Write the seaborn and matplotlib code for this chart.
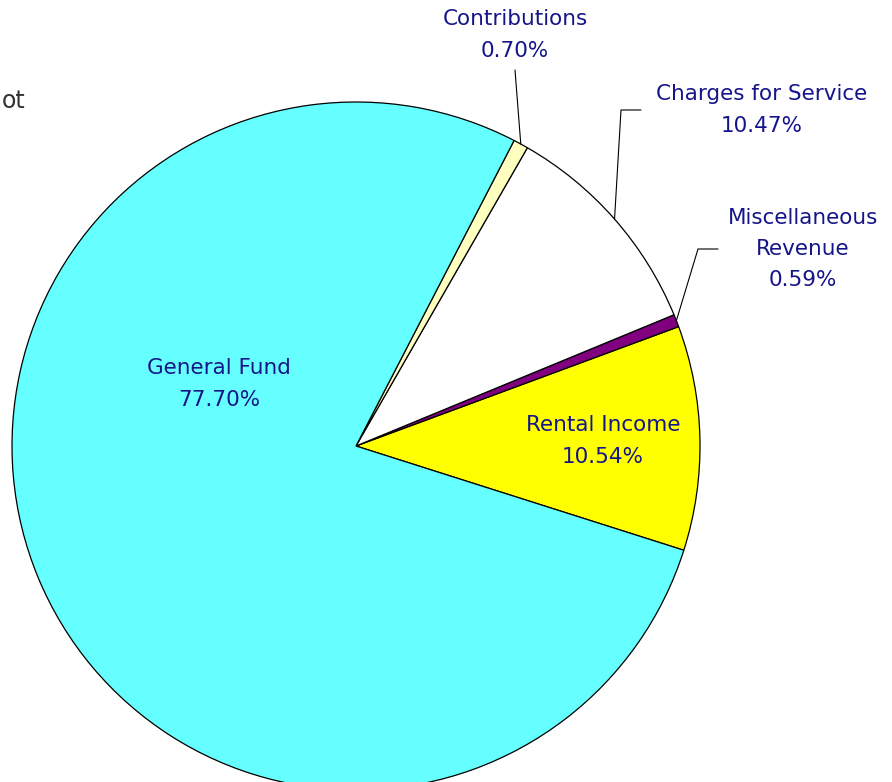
import numpy as np
import matplotlib
matplotlib.use("Agg")
import matplotlib.pyplot as plt
import seaborn as sns

# Revenue sources (percent of total)
categories = ["Rental Income", "Miscellaneous\nRevenue", "Charges for Service",
              "Contributions", "General Fund"]
shares = [10.54, 0.59, 10.47, 0.70, 77.70]
colors = ["#FFFF00", "#800080", "#FFFFFF", "#FFFFC0", "#66FFFF"]

sns.set_theme(style="white")
plt.rcParams["font.family"] = ["DejaVu Sans"]

W, H = 892, 782
fig = plt.figure(figsize=(W / 100, H / 100), dpi=100)
ax = fig.add_axes([0, 0, 1, 1])

# pie geometry in pixel space
cx, cy, R = 356, 446, 344


def to_data(x, y):
    return ((x - cx) / R, (cy - y) / R)


wedges, _ = ax.pie(shares, colors=colors, startangle=-17.64, counterclock=True,
                   radius=1.0, center=(0, 0),
                   wedgeprops=dict(edgecolor="black", linewidth=0.9))

ax.set_xlim(-cx / R, (W - cx) / R)
ax.set_ylim((cy - H) / R, cy / R)
ax.set_aspect("equal")
ax.axis("off")

txt_color = "#15158A"
fs = 15.5
ls = 1.7


def label(i):
    return f"{categories[i]}\n{shares[i]:.2f}%"


def anchor(i):
    w = wedges[i]
    mid = np.deg2rad((w.theta1 + w.theta2) / 2)
    return np.cos(mid), np.sin(mid)


# labels inside the large slices
ax.text(*to_data(219, 384), label(4), ha="center", va="center",
        color=txt_color, fontsize=fs, linespacing=ls)
ax.text(*to_data(603, 441), label(0), ha="center", va="center",
        color=txt_color, fontsize=fs, linespacing=ls)

# Contributions: straight leader
ax0 = anchor(3)
ax.plot([ax0[0], to_data(515, 70)[0]], [ax0[1], to_data(515, 70)[1]],
        color="black", lw=0.8)
ax.text(*to_data(515, 35), label(3), ha="center", va="center",
        color=txt_color, fontsize=fs, linespacing=ls)

# Charges for Service: elbow leader
a = anchor(2)
p1, p2 = to_data(621, 110), to_data(641, 110)
ax.plot([a[0], p1[0], p2[0]], [a[1], p1[1], p2[1]], color="black", lw=0.8)
ax.text(*to_data(762, 110), label(2), ha="center", va="center",
        color=txt_color, fontsize=fs, linespacing=ls)

# Miscellaneous Revenue: elbow leader
a = anchor(1)
p1, p2 = to_data(698, 249), to_data(718, 249)
ax.plot([a[0], p1[0], p2[0]], [a[1], p1[1], p2[1]], color="black", lw=0.8)
ax.text(*to_data(803, 249), label(1), ha="center", va="center",
        color=txt_color, fontsize=fs, linespacing=ls)

# title fragment at the left edge
ax.text(*to_data(25, 108), "ot", ha="right", va="baseline",
        color="#333333", fontsize=17)

fig.savefig("out.png", dpi=100)
